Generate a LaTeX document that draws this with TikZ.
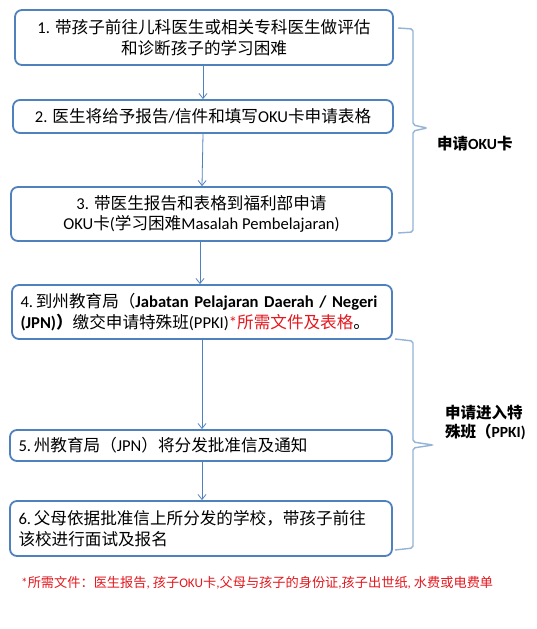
\documentclass[tikz,border=0pt]{standalone}
\usepackage{fontspec}
\setmainfont{Noto Sans CJK SC}
\newfontfamily\latfont{Carlito}
\newcommand\ltn[1]{{\latfont #1}}
\usetikzlibrary{arrows.meta}
\definecolor{boxblue}{RGB}{79,129,189}
\definecolor{braceblue}{RGB}{149,179,215}
\definecolor{txtred}{RGB}{228,24,30}
\begin{document}
\begin{tikzpicture}[x=1pt,y=-1pt,
  stepbox/.style={draw=boxblue, line width=1.8pt, rounded corners=7pt, inner sep=0pt,
    font=\fontsize{16.6}{20.5}\selectfont},
  centerbox/.style 2 args={stepbox, align=center, minimum width=#1, minimum height=#2},
  leftbox/.style 2 args={stepbox, align=left, inner xsep=8.5pt, text width=#1-17pt, minimum height=#2},
  arr/.style={draw=boxblue, line width=0.8pt, -{Straight Barb[length=5pt,width=8pt]}},
  bracepath/.style={draw=braceblue, line width=1.4pt, rounded corners=2pt},
  sidelabel/.style={font=\fontsize{15.5}{19}\selectfont\bfseries, align=left, inner sep=0pt, anchor=west}
]
\useasboundingbox (0,0) rectangle (537,629);
\fill[white] (0,0) rectangle (537,629);

\node[centerbox={378pt}{55pt}] (b1) at (204,37.5)
  {\ltn{1. }带孩子前往儿科医生或相关专科医生做评估\\和诊断孩子的学习困难};
\node[centerbox={380pt}{33pt}] (b2) at (203,116.5)
  {\ltn{2. }医生将给予报告\ltn{/}信件和填写\ltn{OKU}卡申请表格};
\node[centerbox={381pt}{54pt}] (b3) at (201.5,214)
  {\ltn{3. }带医生报告和表格到福利部申请\\\ltn{OKU}卡\ltn{(}学习困难\ltn{Masalah Pembelajaran)}};
\node[leftbox={380pt}{54pt}] (b4) at (202,312)
  {\mbox{\ltn{4.\,}到州教育局（{\latfont\bfseries Jabatan Pelajaran Daerah / Negeri}}\\
   \mbox{{\latfont\bfseries (JPN)}{\bfseries ）}缴交申请特殊班\ltn{(PPKI)}\textcolor{txtred}{\ltn{*}所需文件及表格}。}};
\node[leftbox={382pt}{31pt}] (b5) at (201,445.5)
  {\mbox{\ltn{5.\,}州教育局（\ltn{JPN}）将分发批准信及通知}};
\node[leftbox={382pt}{55pt}] (b6) at (201,528.5)
  {\mbox{\ltn{6.\,}父母依据批准信上所分发的学校，带孩子前往}\\\mbox{该校进行面试及报名}};

\draw[arr] ([xshift=-1pt]b1.south) -- ([xshift=0pt]b2.north);
\draw[arr] ([xshift=0pt]b2.south) -- ([xshift=0.5pt]b3.north);
\draw[arr] ([xshift=-1.5pt]b3.south) -- ([xshift=-2pt]b4.north);
\draw[arr] ([xshift=0pt]b4.south) -- ([xshift=1pt]b5.north);
\draw[arr] ([xshift=1pt]b5.south) -- ([xshift=1pt]b6.north);

\coordinate (t1) at (427,128);
\coordinate (t2) at (433,445);
\draw[bracepath] (398,28) -- (413,29) -- (413,125) -- (t1) -- (413,131) -- (413,232) -- (398,233);
\draw[bracepath] (395,339) -- (413,341) -- (413,442) -- (t2) -- (413,448) -- (413,548) -- (395,550);

\node[sidelabel] (l1) at (437,144) {申请\ltn{OKU}卡};
\node[sidelabel] (l2) at (445,422.5) {申请进入特\\殊班（\ltn{PPKI)}};

\node[anchor=west, inner sep=0pt, text=txtred, font=\fontsize{13.2}{15}\selectfont] (fn) at (21,583)
  {\ltn{*}所需文件：医生报告\ltn{, }孩子\ltn{OKU}卡\ltn{,}父母与孩子的身份证\ltn{,}孩子出世纸\ltn{, }水费或电费单};
\end{tikzpicture}
\end{document}
